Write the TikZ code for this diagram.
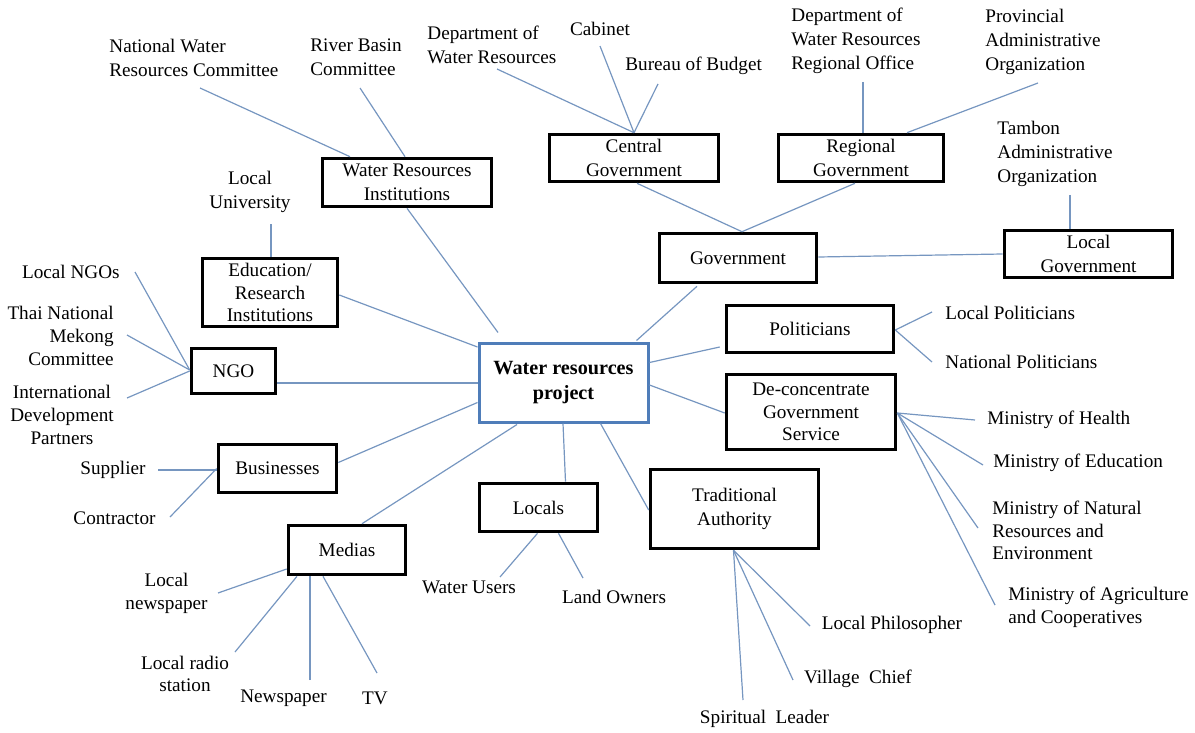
\documentclass[tikz,border=0pt]{standalone}
\usepackage{fontspec}
\setmainfont{Liberation Serif}
\usetikzlibrary{calc}
\definecolor{conn}{RGB}{118,150,192}
\definecolor{projblue}{RGB}{79,125,185}
\tikzset{
  hub/.style={draw=black, line width=1.8pt, align=center, inner sep=0pt, font=\fontsize{9.6pt}{12.3pt}\selectfont},
  leaf/.style={inner sep=0pt, font=\fontsize{9.6pt}{12pt}\selectfont},
  tight/.style={font=\fontsize{9.6pt}{11.3pt}\selectfont},
  link/.style={draw=conn, line width=0.6pt},
}
\begin{document}
\begin{tikzpicture}[x=0.5pt,y=-0.5pt]
\useasboundingbox (0,0) rectangle (1195,733);
% ---------- hub boxes ----------
\node[hub, minimum width=84.5pt, minimum height=24pt] (wri) at (407,182.5) {Water Resources\\Institutions};
\node[hub, minimum width=84.5pt, minimum height=23.5pt] (cen) at (634,158) {Central\\Government};
\node[hub, minimum width=82.5pt, minimum height=23.5pt] (reg) at (861,158) {Regional\\Government};
\node[hub, minimum width=78.5pt, minimum height=24.5pt] (gov) at (738,258) {Government};
\node[hub, minimum width=84pt, minimum height=23.5pt] (lgov) at (1088.5,254) {Local\\Government};
\node[hub, tight, minimum width=67.5pt, minimum height=34pt] (edu) at (270,292.5) {Education/\\Research\\Institutions};
\node[hub, minimum width=42pt, minimum height=22.5pt] (ngo) at (233.5,371) {NGO};
\node[hub, minimum width=59pt, minimum height=24pt] (bus) at (277.5,468.5) {Businesses};
\node[draw=projblue, line width=1.5pt, align=center, inner sep=0pt, minimum width=84.5pt, minimum height=39.5pt,
      font=\fontsize{10.1pt}{12.5pt}\selectfont\bfseries] (proj) at (563.5,382.5) {Water resources\\project};
\node[hub, minimum width=83.5pt, minimum height=23.5pt] (pol) at (810,329) {Politicians};
\node[hub, tight, minimum width=84.5pt, minimum height=37.5pt] (dec) at (811,412) {De-concentrate\\Government\\Service};
\node[hub, minimum width=84pt, minimum height=39.5pt] (tra) at (734.5,509) {Traditional\\Authority};
\node[hub, minimum width=59pt, minimum height=24pt] (lcl) at (538.5,507.5) {Locals};
\node[hub, minimum width=58.5pt, minimum height=24.5pt] (med) at (347,550) {Medias};
% ---------- leaf texts ----------
\node[leaf, anchor=west, align=left] (nwrc) at (109,57.5) {National Water\\Resources Committee};
\node[leaf, anchor=west, align=left] (rbc) at (310,57.5) {River Basin\\Committee};
\node[leaf, anchor=west, align=left] (dwr) at (427,45) {Department of\\Water Resources};
\node[leaf] (cab) at (600,29) {Cabinet};
\node[leaf, anchor=west] (bob) at (625,66) {Bureau of Budget};
\node[leaf, anchor=west, align=left] (dwrro) at (791,41) {Department of\\Water Resources\\Regional Office};
\node[leaf, anchor=west, align=left] (prov) at (985,42) {Provincial\\Administrative\\Organization};
\node[leaf, anchor=west, align=left] (tam) at (997,154) {Tambon\\Administrative\\Organization};
\node[leaf, align=center] (lu) at (250,192) {Local\\University};
\node[leaf, anchor=east] (lngo) at (120,272) {Local NGOs};
\node[leaf, tight, anchor=east, align=right] (thai) at (114,336) {Thai National\\Mekong\\Committee};
\node[leaf, tight, align=center] (intl) at (62,415) {International\\Development\\Partners};
\node[leaf] (sup) at (113,470) {Supplier};
\node[leaf] (con) at (114.5,518) {Contractor};
\node[leaf, tight, align=center] (lnews) at (166.5,593.5) {Local\\newspaper};
\node[leaf, tight, align=center] (radio) at (185,674) {Local radio\\station};
\node[leaf] (news) at (283.5,698) {Newspaper};
\node[leaf] (tv) at (375,698) {TV};
\node[leaf] (wu) at (469,587) {Water Users};
\node[leaf] (lo) at (614,597) {Land Owners};
\node[leaf] (phil) at (892,625) {Local Philosopher};
\node[leaf] (vc) at (858,679) {Village\ \ Chief};
\node[leaf] (sl) at (764.5,719) {Spiritual\ \ Leader};
\node[leaf, anchor=west] (lpol) at (945,313) {Local Politicians};
\node[leaf, anchor=west] (npol) at (945,362) {National\ Politicians};
\node[leaf, anchor=west] (mh) at (987,420) {Ministry\ of Health};
\node[leaf, anchor=west] (me) at (993,463) {Ministry\ of Education};
\node[leaf, tight, anchor=west, align=left] (mn) at (992,530.5) {Ministry\ of Natural\\Resources and\\Environment};
\node[leaf, tight, anchor=west, align=left] (ma) at (1008,607.5) {Ministry\ of Agriculture\\and Cooperatives};
% ---------- free ends near leaf texts ----------
\coordinate (e-nwrc) at (200,88);
\coordinate (e-rbc) at (360,88);
\coordinate (e-dwr) at (497,69);
\coordinate (e-cab) at (600,46);
\coordinate (e-bob) at (658,84);
\coordinate (e-dwrro) at (863,82);
\coordinate (e-prov) at (1038,83);
\coordinate (e-tam) at (1070,195);
\coordinate (e-lu) at (271,224);
\coordinate (e-lngo) at (135,272);
\coordinate (e-thai) at (127,335);
\coordinate (e-intl) at (127,398);
\coordinate (e-sup) at (158,470);
\coordinate (e-con) at (170,517);
\coordinate (e-lnews) at (218,593);
\coordinate (e-radio) at (235,652);
\coordinate (e-news) at (310,680);
\coordinate (e-tv) at (377,673);
\coordinate (e-wu) at (500,577);
\coordinate (e-lo) at (583,578);
\coordinate (e-sl) at (743,700);
\coordinate (e-vc) at (793,680);
\coordinate (e-phil) at (810,626);
\coordinate (e-lpol) at (932,312);
\coordinate (e-npol) at (932,362);
\coordinate (e-mh) at (975,420);
\coordinate (e-me) at (983,465);
\coordinate (e-mn) at (978,528);
\coordinate (e-ma) at (995,605);
% ---------- connectors ----------
\begin{scope}[link]
% hubs to project
\draw (wri.south) -- ($(proj.north)+(-65.5,-9)$);
\draw ($(edu.east)+(0,2.5)$) -- ($(proj.west)+(0,-35.5)$);
\draw ($(ngo.east)+(0,12)$) -- ($(proj.west)+(0,0.5)$);
\draw ($(bus.east)+(0,-6)$) -- ($(proj.west)+(0,20)$);
\draw ($(med.north)+(15,0)$) -- ($(proj.south)+(-46.5,1)$);
\draw ($(proj.south)+(-0.5,0)$) -- ($(lcl.north)+(27,0)$);
\draw ($(proj.south)+(37,0)$) -- ($(tra.west)+(0,1)$);
\draw ($(gov.south)+(-41,2)$) -- ($(proj.north)+(73,-1)$);
\draw ($(proj.east)+(0,-20)$) -- ($(pol.west)+(-5,18)$);
\draw ($(proj.east)+(0,2.5)$) -- ($(dec.west)+(0,1)$);
% government
\draw ($(cen.south)+(3,0)$) -- ($(gov.north)+(4,0)$);
\draw ($(reg.south)+(-6,0)$) -- ($(gov.north)+(4,0)$);
\draw ($(gov.east)+(0,-1)$) -- (lgov.west);
\draw (e-dwr) -- (cen.north);
\draw (e-cab) -- (cen.north);
\draw (e-bob) -- (cen.north);
\draw (e-dwrro) -- ($(reg.north)+(2,0)$);
\draw (e-prov) -- ($(reg.north)+(46,0)$);
\draw (e-tam) -- ($(lgov.north)+(-18.5,0)$);
% institutions
\draw (e-nwrc) -- ($(wri.north)+(-57,0)$);
\draw (e-rbc) -- ($(wri.north)+(-2,0)$);
\draw (e-lu) -- ($(edu.north)+(1,0)$);
% NGO
\draw (e-lngo) -- ($(ngo.west)+(0,-1)$);
\draw (e-thai) -- ($(ngo.west)+(0,-1)$);
\draw (e-intl) -- ($(ngo.west)+(0,0)$);
% businesses
\draw (e-sup) -- ($(bus.west)+(0,1.5)$);
\draw (e-con) -- ($(bus.west)+(0,0)$);
% medias
\draw (e-lnews) -- ($(med.west)+(0,19)$);
\draw (e-radio) -- ($(med.south)+(-50,0)$);
\draw (e-news) -- ($(med.south)+(-37,0)$);
\draw (e-tv) -- ($(med.south)+(-24,0)$);
% locals
\draw (e-wu) -- ($(lcl.south)+(-1,0)$);
\draw (e-lo) -- ($(lcl.south)+(20,0)$);
% traditional authority
\draw (e-sl) -- ($(tra.south)+(-1,0)$);
\draw (e-vc) -- ($(tra.south)+(-1,0)$);
\draw (e-phil) -- ($(tra.south)+(-1,0)$);
% politicians
\draw (e-lpol) -- ($(pol.east)+(0,1)$);
\draw (e-npol) -- ($(pol.east)+(0,1)$);
% de-concentrate
\draw (e-mh) -- ($(dec.east)+(0,1)$);
\draw (e-me) -- ($(dec.east)+(0,1)$);
\draw (e-mn) -- ($(dec.east)+(0,1)$);
\draw (e-ma) -- ($(dec.east)+(0,1)$);
\end{scope}
\end{tikzpicture}
\end{document}
